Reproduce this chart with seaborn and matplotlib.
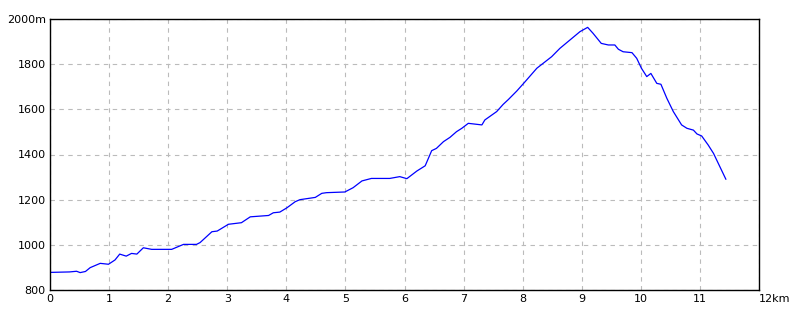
import matplotlib
matplotlib.use("Agg")
import matplotlib.pyplot as plt
import seaborn as sns
import pandas as pd

distance_km = [0.00, 0.01, 0.33, 0.45, 0.51, 0.60, 0.68, 0.85, 0.99, 1.10, 1.18, 1.29, 1.38, 1.47,
               1.58, 1.72, 2.06, 2.26, 2.48, 2.54, 2.74, 2.83, 3.02, 3.24, 3.39, 3.70, 3.78, 3.89,
               4.01, 4.15, 4.23, 4.49, 4.60, 4.68, 4.99, 5.13, 5.28, 5.44, 5.75, 5.92, 6.04, 6.21,
               6.35, 6.46, 6.54, 6.66, 6.77, 6.88, 6.97, 7.08, 7.31, 7.36, 7.56, 7.67, 7.76, 7.90,
               8.04, 8.24, 8.49, 8.63, 8.80, 8.97, 9.10, 9.19, 9.33, 9.45, 9.56, 9.62, 9.70, 9.85,
               9.93, 10.01, 10.10, 10.17, 10.27, 10.34, 10.44, 10.55, 10.69, 10.78, 10.89, 10.95,
               11.03, 11.14, 11.23, 11.44]
elevation_m = [885, 878, 880, 883, 877, 882, 899, 918, 914, 933, 959, 950, 962, 959,
               987, 980, 980, 1002, 1002, 1010, 1058, 1061, 1091, 1098, 1124, 1130, 1142, 1145,
               1164, 1191, 1200, 1210, 1228, 1231, 1234, 1253, 1283, 1294, 1294, 1302, 1293, 1327,
               1350, 1417, 1427, 1457, 1476, 1501, 1516, 1538, 1531, 1553, 1590, 1622, 1644, 1681,
               1722, 1782, 1833, 1870, 1907, 1944, 1963, 1937, 1892, 1885, 1885, 1866, 1855, 1851,
               1826, 1782, 1745, 1759, 1715, 1711, 1649, 1590, 1531, 1516, 1508, 1491,
               1482, 1442, 1405, 1290]

x_ticks = list(range(0, 13))
x_labels = [str(i) for i in range(12)] + ["12km"]
y_ticks = [800, 1000, 1200, 1400, 1600, 1800, 2000]
y_labels = ["800", "1000", "1200", "1400", "1600", "1800", "2000m"]

df = pd.DataFrame({"km": distance_km, "m": elevation_m})

sns.set_theme(style="white")
plt.rcParams["font.family"] = ["DejaVu Sans"]

fig = plt.figure(figsize=(8, 3.2), dpi=100)
ax = fig.add_axes([0.0625, 0.09375, 0.88625, 0.846875])
sns.lineplot(data=df, x="km", y="m", ax=ax, color="#0000FF", linewidth=0.9)

ax.set_xlim(0, 12)
ax.set_ylim(800, 2000)
ax.set_xticks(x_ticks)
ax.set_xticklabels(x_labels, fontsize=8)
ax.set_yticks(y_ticks)
ax.set_yticklabels(y_labels, fontsize=8)
ax.set_xlabel("")
ax.set_ylabel("")
ax.tick_params(length=0, pad=3, colors="black")
ax.grid(True, color="#BBBBBB", linestyle=(0, (4, 4)), linewidth=0.8)
for s in ax.spines.values():
    s.set_color("black")
    s.set_linewidth(1.0)

fig.canvas.draw()
lbl = ax.get_xticklabels()[-1]
lbl.set_horizontalalignment("left")
lbl.set_x(11.94)

fig.savefig("out.png", dpi=100, facecolor="white")
